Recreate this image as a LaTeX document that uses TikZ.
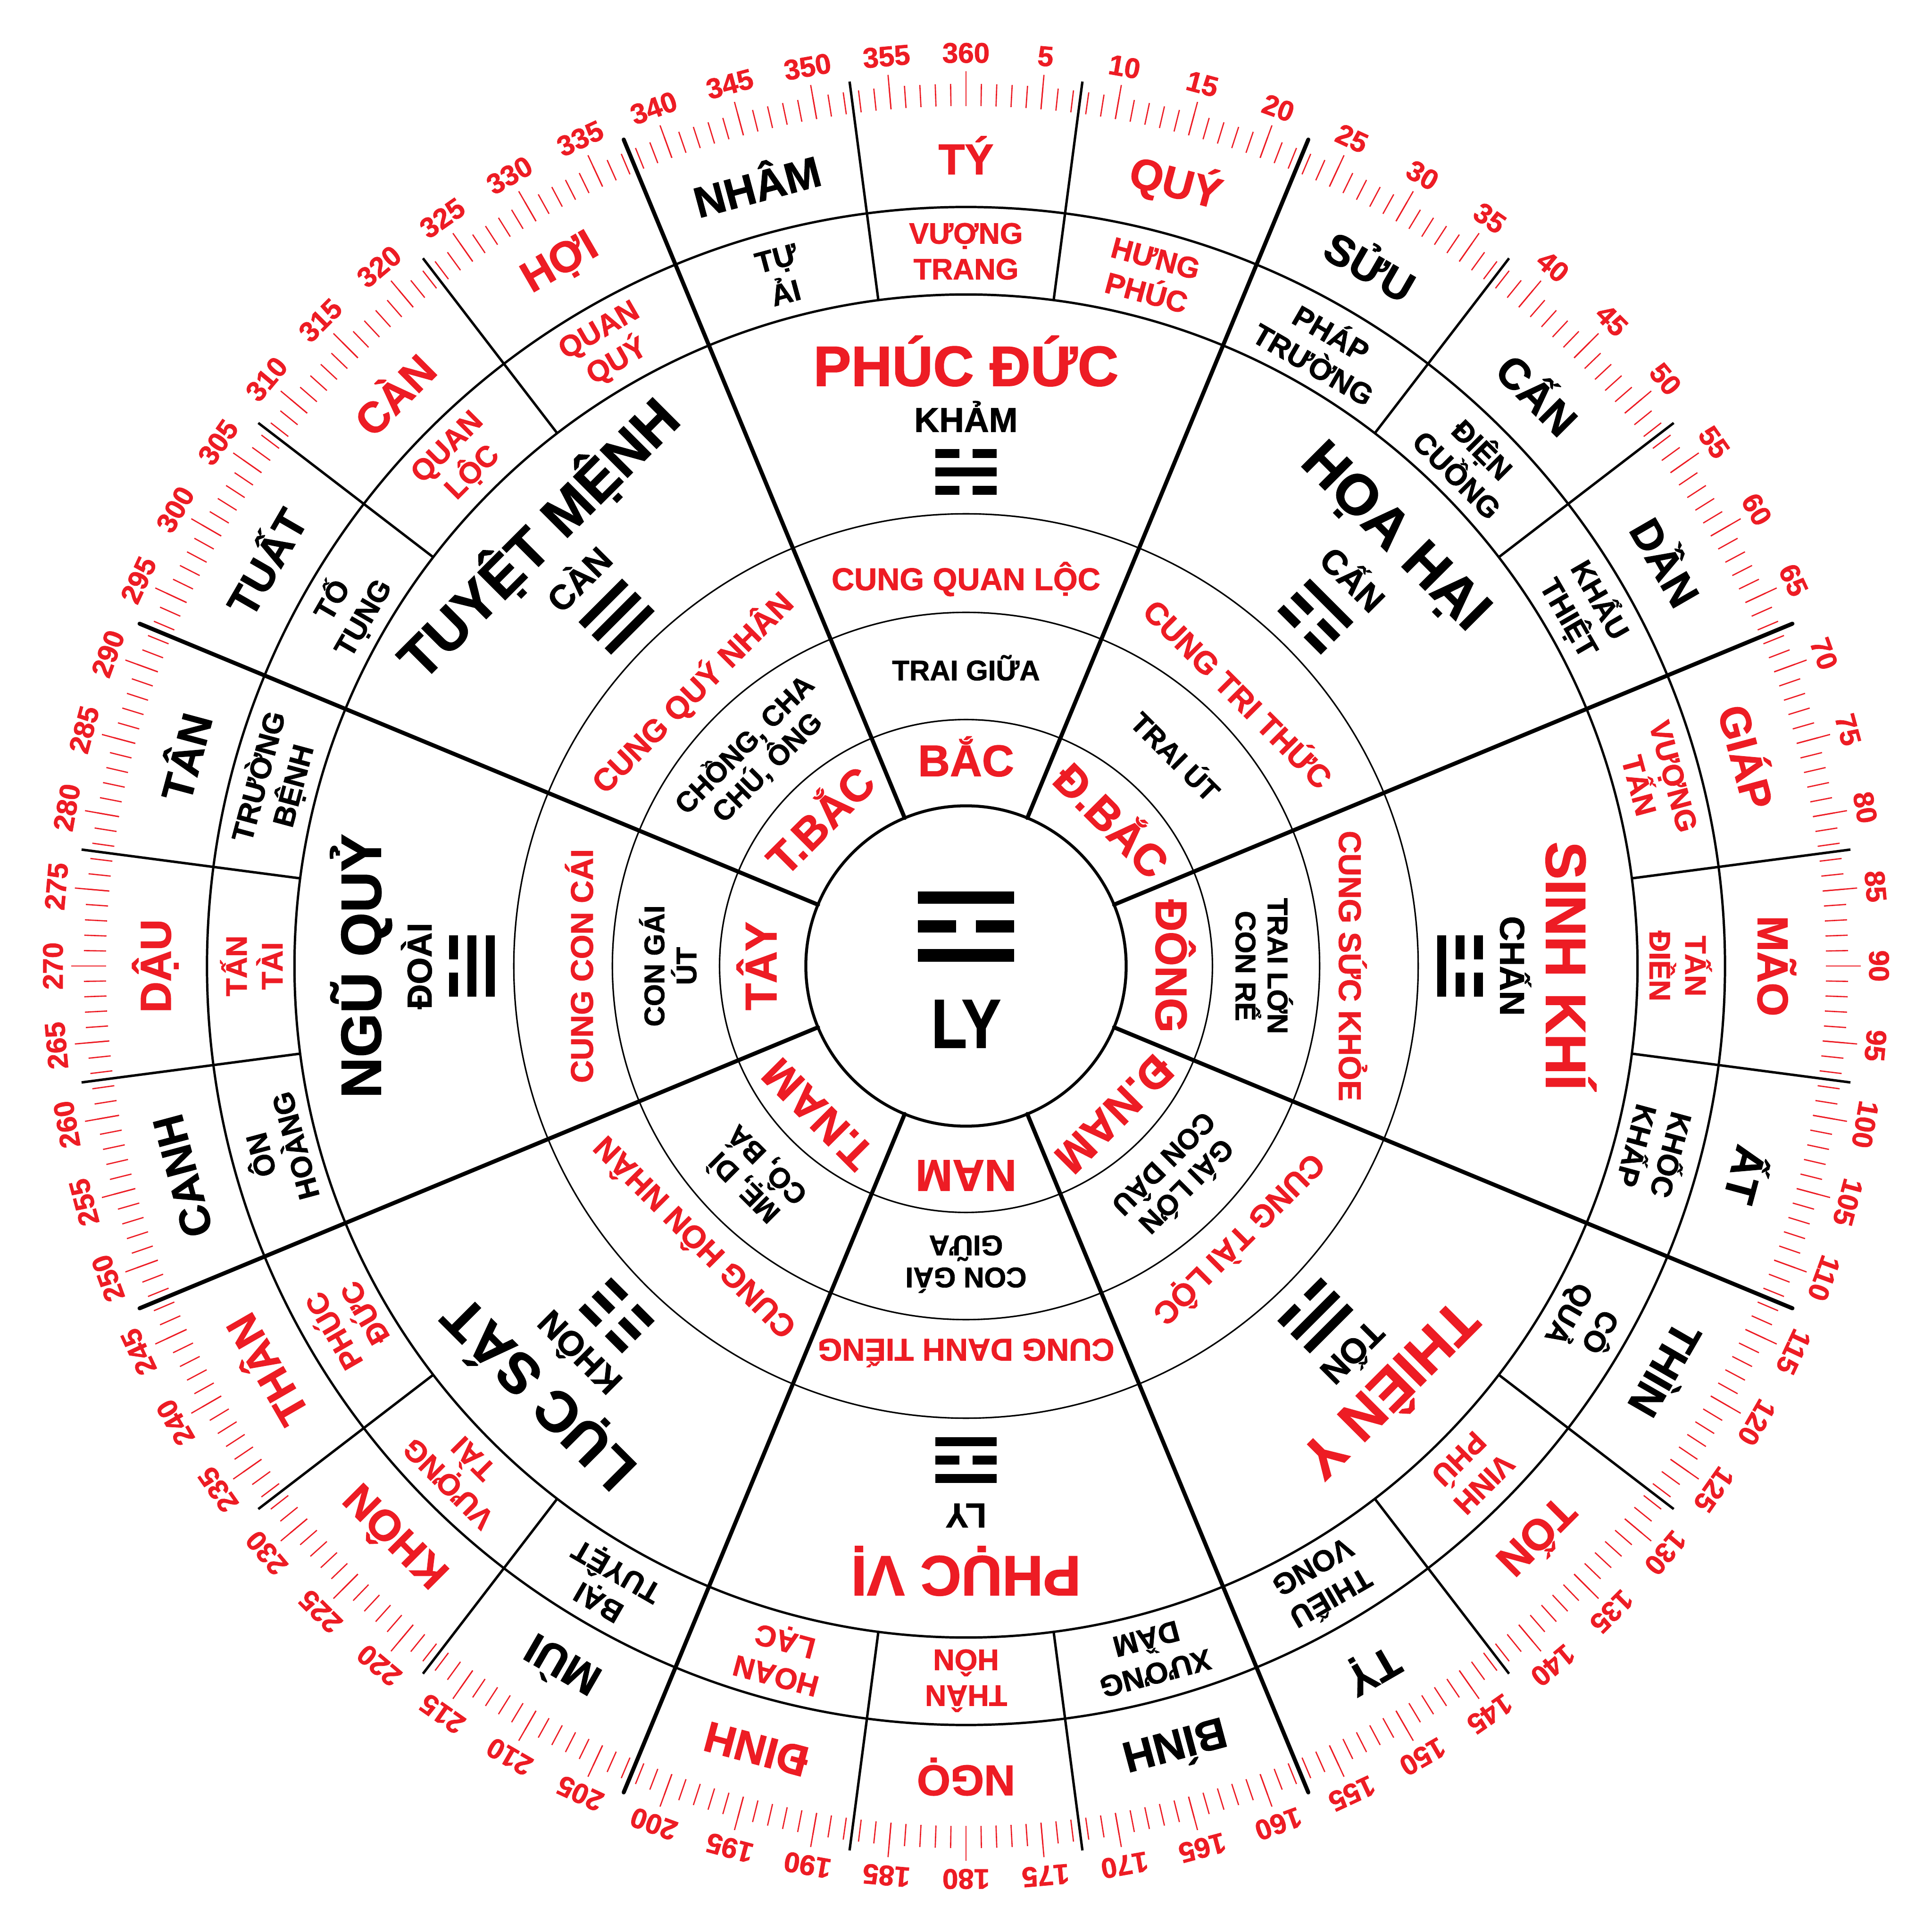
\documentclass[tikz,border=0pt]{standalone}
\usepackage{fontspec}
\setmainfont{Liberation Sans}[BoldFeatures={FakeBold=1.3}]
\usepackage{xcolor}
\usepackage{tikz}
\definecolor{lored}{HTML}{ED1C24}
\tikzset{
    hubline/.style={
        draw=black,
        line width=2.4pt
    },
    thinring/.style={
        draw=black,
        line width=1.2pt
    },
    midring/.style={
        draw=black,
        line width=1.9pt
    },
    spoke/.style={
        draw=black,
        line width=3.3pt,
        line cap=round
    },
    divider/.style={
        draw=black,
        line width=2pt
    },
    tickmark/.style={
        draw=lored,
        line width=1pt
    },
    degreelabel/.style={
        text=lored,
        inner sep=0pt,
        font=\fontsize{23}{23}\selectfont\bfseries
    },
    mountainlabel/.style={
        inner sep=0pt,
        font=\fontsize{35}{35}\selectfont\bfseries
    },
    starlabel/.style={
        inner sep=0pt,
        align=center,
        font=\fontsize{24}{29}\selectfont\bfseries
    },
    palacelabel/.style={
        inner sep=0pt,
        font=\fontsize{46}{46}\selectfont\bfseries
    },
    gualabel/.style={
        inner sep=0pt,
        font=\fontsize{28}{28}\selectfont\bfseries
    },
    cunglabel/.style={
        text=lored,
        inner sep=0pt,
        font=\fontsize{25.5}{25.5}\selectfont\bfseries
    },
    kinlabel/.style={
        inner sep=0pt,
        align=center,
        font=\fontsize{23}{26}\selectfont\bfseries
    },
    dirlabel/.style={
        text=lored,
        inner sep=0pt,
        font=\fontsize{36}{36}\selectfont\bfseries
    },
    hublabel/.style={
        inner sep=0pt,
        xscale=0.85,
        font=\fontsize{56}{56}\selectfont\bfseries
    }
}
\newcommand{\guabar}[3]{%
  \ifnum#3=1\relax
    \fill (-25,{#1*15-#2/2}) rectangle (25,{#1*15+#2/2});
  \else
    \fill (-25,{#1*15-#2/2}) rectangle (-5.2,{#1*15+#2/2});
    \fill (5.2,{#1*15-#2/2}) rectangle (25,{#1*15+#2/2});
  \fi}
\newcommand{\drawgua}[7]{%
  \begin{scope}[shift={(#1)}, rotate=#2, scale=#3]
    \guabar{-1}{#4}{#5}
    \guabar{0}{#4}{#6}
    \guabar{1}{#4}{#7}
  \end{scope}}

\begin{document}
\begin{tikzpicture}[x=1pt, y=1pt]
\fill[white] (-784,-784) rectangle (784,784);

\draw[hubline] (0,0) circle (130);
\foreach \r in {200,287,367} \draw[thinring] (0,0) circle (\r);
\foreach \r in {545,616} \draw[midring] (0,0) circle (\r);

\foreach \d in {1,...,360} \draw[tickmark] ({90-\d}:698) -- ({90-\d}:716);
\foreach \d in {5,10,...,360} {
  \draw[tickmark] ({90-\d}:698) -- ({90-\d}:726);
  \node[degreelabel] (deg-\d) at ({90-\d}:741) [rotate=-\d] {\d};
}

\foreach \k in {0,...,23} \draw[divider] ({82.5-15*\k}:545) -- ({82.5-15*\k}:724);
\foreach \k in {0,...,7} \draw[spoke] ({67.5-45*\k}:130) -- ({67.5-45*\k}:726);

\foreach \name/\col [count=\i from 0] in {TÝ/lored, QUÝ/lored, SỬU/black, CẤN/black, DẦN/black, GIÁP/lored, MÃO/lored, ẤT/black, THÌN/black, TỐN/lored, TỴ/black, BÍNH/black, NGỌ/lored, ĐINH/lored, MÙI/black, KHÔN/lored, THÂN/lored, CANH/black, DẬU/lored, TÂN/black, TUẤT/black, CÀN/lored, HỢI/lored, NHÂM/black}
  \node[mountainlabel, text=\col] (mtn-\i) at ({90-15*\i}:658) [rotate={-15*\i}] {\name};

\foreach \name/\col [count=\i from 0] in {VƯỢNG\\TRANG/lored, HƯNG\\PHÚC/lored, PHÁP\\TRƯỜNG/black, ĐIỆN\\CUỒNG/black, KHẨU\\THIỆT/black, VƯỢNG\\TẤN/lored, TẤN\\ĐIỀN/lored, KHỐC\\KHẤP/black, CÔ\\QUẢ/black, VINH\\PHÚ/lored, THIẾU\\VONG/black, XƯƠNG\\DẦM/black, THÂN\\HÔN/lored, HOAN\\LẠC/lored, BẠI\\TUYỆT/black, VƯỢNG\\TÀI/lored, PHÚC\\ĐỨC/lored, ÔN\\HOÀNG/black, TẤN\\TÀI/lored, TRƯỜNG\\BỆNH/black, TỐ\\TỤNG/black, QUAN\\LỘC/lored, QUAN\\QUÝ/lored, TỰ\\ẢI/black}
  \node[starlabel, text=\col] (star-\i) at ({90-15*\i}:580) [rotate={-15*\i}] {\name};

\foreach \palace/\pcol/\gua/\ya/\yb/\yc [count=\i from 0] in {PHÚC ĐỨC/lored/KHẢM/0/1/0, HỌA HẠI/black/CẤN/0/0/1, SINH KHÍ/lored/CHẤN/1/0/0, THIÊN Y/lored/TỐN/0/1/1, PHỤC VỊ/lored/LY/1/0/1, LỤC SÁT/black/KHÔN/0/0/0, NGŨ QUỶ/black/ĐOÀI/1/1/0, TUYỆT MỆNH/black/CÀN/1/1/1} {
  \node[palacelabel, text=\pcol] (palace-\i) at ({90-45*\i}:491) [rotate={-45*\i}] {\palace};
  \node[gualabel] (gua-\i) at ({90-45*\i}:446) [rotate={-45*\i}] {\gua};
  \drawgua{{90-45*\i}:401}{-45*\i}{1}{7.4}{\ya}{\yb}{\yc}
}

\foreach \name [count=\i from 0] in {CUNG QUAN LỘC, CUNG TRI THỨC, CUNG SỨC KHỎE, CUNG TÀI LỘC, CUNG DANH TIẾNG, CUNG HÔN NHÂN, CUNG CON CÁI, CUNG QUÝ NHÂN}
  \node[cunglabel] (cung-\i) at ({90-45*\i}:314) [rotate={-45*\i}] {\name};

\foreach \name [count=\i from 0] in {TRAI GIỮA, TRAI ÚT, TRAI LỚN\\CON RỂ, GÁI LỚN\\CON DÂU, CON GÁI\\GIỮA, {MẸ, DÌ\\CÔ, BÁ}, CON GÁI\\ÚT, {CHỒNG, CHA\\CHÚ, ÔNG}}
  \node[kinlabel] (kin-\i) at ({90-45*\i}:242) [rotate={-45*\i}] {\name};

\foreach \name [count=\i from 0] in {BẮC, Đ.BẮC, ĐÔNG, Đ.NAM, NAM, T.NAM, TÂY, T.BẮC}
  \node[dirlabel] (dir-\i) at ({90-45*\i}:170) [rotate={-45*\i}] {\name};

\drawgua{0,32}{0}{1.56}{6.4}{1}{0}{1}
\node[hublabel] (hub) at (0,-47) {LY};
\end{tikzpicture}
\end{document}
